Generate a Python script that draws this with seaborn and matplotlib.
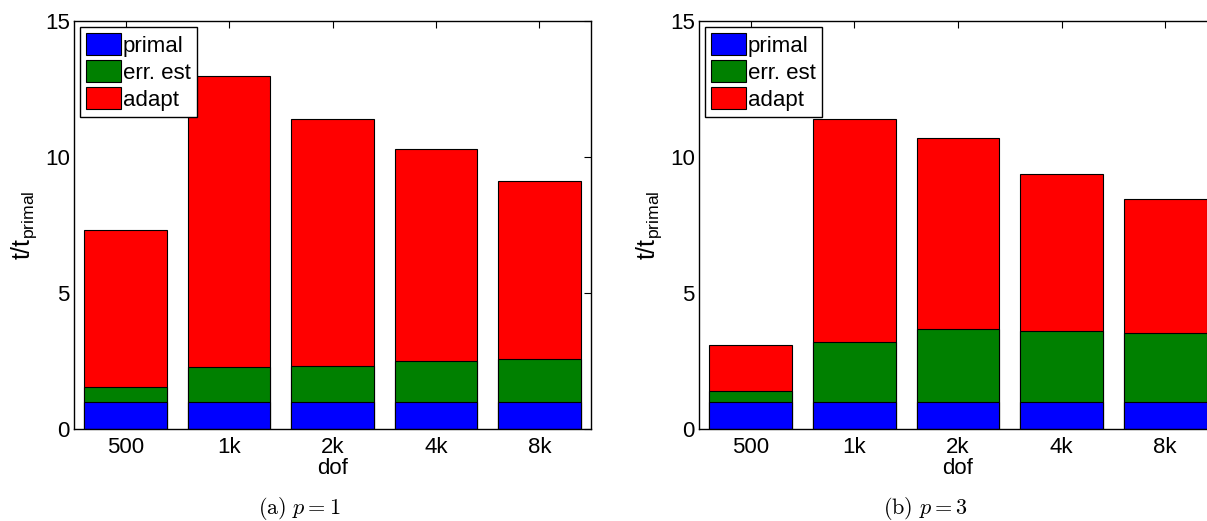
import numpy as np
import pandas as pd
import matplotlib
matplotlib.use("Agg")
import matplotlib.pyplot as plt
import seaborn as sns
from matplotlib.patches import Patch

# ---------------- data ----------------
dof_labels = ["500", "1k", "2k", "4k", "8k"]
series_names = ["primal", "err. est", "adapt"]

# panel (a) p = 1
primal_a = [1.0, 1.0, 1.0, 1.0, 1.0]
errest_a = [0.56, 1.29, 1.32, 1.50, 1.56]
adapt_a = [5.77, 10.69, 9.06, 7.81, 6.56]

# panel (b) p = 3
primal_b = [1.0, 1.0, 1.0, 1.0, 1.0]
errest_b = [0.40, 2.21, 2.66, 2.60, 2.53]
adapt_b = [1.70, 8.20, 7.05, 5.78, 4.91]

captions = [r"$\mathrm{(a)}\ p = 1$", r"$\mathrm{(b)}\ p = 3$"]

colors = ["#0000FF", "#008000", "#FF0000"]

# ---------------- style ----------------
sns.set_style("white")
plt.rcParams["font.family"] = ["Liberation Sans", "DejaVu Sans"]
plt.rcParams["mathtext.fontset"] = "custom"
plt.rcParams["mathtext.rm"] = "Liberation Sans"
plt.rcParams["mathtext.it"] = "Liberation Sans:italic"
plt.rcParams["xtick.direction"] = "in"
plt.rcParams["ytick.direction"] = "in"
for key in ["text.color", "axes.labelcolor", "xtick.color", "ytick.color",
            "xtick.labelcolor", "ytick.labelcolor"]:
    plt.rcParams[key] = "black"

FS = 16
W, H = 1207, 521
fig = plt.figure(figsize=(W / 100, H / 100), dpi=100)
fig.patch.set_facecolor("white")


def px_axes(x0, x1, ytop, ybot):
    return fig.add_axes([x0 / W, 1 - ybot / H, (x1 - x0) / W, (ybot - ytop) / H])


panels = [
    (px_axes(74, 591, 21, 429), primal_a, errest_a, adapt_a, captions[0], 299),
    (px_axes(699, 1217, 21, 429), primal_b, errest_b, adapt_b, captions[1], 925),
]

for ax, primal, errest, adapt, cap, cap_x in panels:
    primal = np.array(primal)
    errest = np.array(errest)
    adapt = np.array(adapt)
    tops = [primal, primal + errest, primal + errest + adapt]
    # draw from tallest to shortest so the stack shows through
    for k in [2, 1, 0]:
        df = pd.DataFrame({"dof": dof_labels, "val": tops[k]})
        sns.barplot(data=df, x="dof", y="val", color=colors[k], saturation=1,
                    width=0.8, edgecolor="black", linewidth=0.8, ax=ax,
                    order=dof_labels, errorbar=None)
    ax.set_xlim(-0.5, 4.5)
    ax.set_ylim(0, 15)
    ax.set_yticks([0, 5, 10, 15])
    ax.set_yticklabels(["0", "5", "10", "15"])
    ax.tick_params(axis="both", which="both", labelsize=FS, top=True, right=True,
                   length=5, width=0.8, color="black", labelcolor="black")
    ax.tick_params(axis="x", pad=6)
    ax.tick_params(axis="y", pad=3)
    ax.set_xlabel("dof", fontsize=FS, labelpad=0, color="black")
    ax.set_ylabel(r"$\mathrm{t/t_{primal}}$", fontsize=18, labelpad=4, color="black")
    for s in ax.spines.values():
        s.set_visible(True)
        s.set_color("black")
        s.set_linewidth(1.0)
    handles = [Patch(facecolor=colors[i], edgecolor="black", linewidth=0.8,
                     label=series_names[i]) for i in range(3)]
    leg = ax.legend(handles=handles, loc="upper left", fontsize=FS,
                    frameon=True, fancybox=False, framealpha=1,
                    edgecolor="black", borderaxespad=0.25, borderpad=0.3,
                    handlelength=1.55, handleheight=1.15, handletextpad=0.1,
                    labelspacing=0.15, labelcolor="black")
    leg.get_frame().set_linewidth(1.0)
    fig.text(cap_x / W, 1 - 508 / H, cap, fontsize=16, ha="center", va="center",
             math_fontfamily="cm", color="black")

fig.savefig("out.png", dpi=100, facecolor="white")
